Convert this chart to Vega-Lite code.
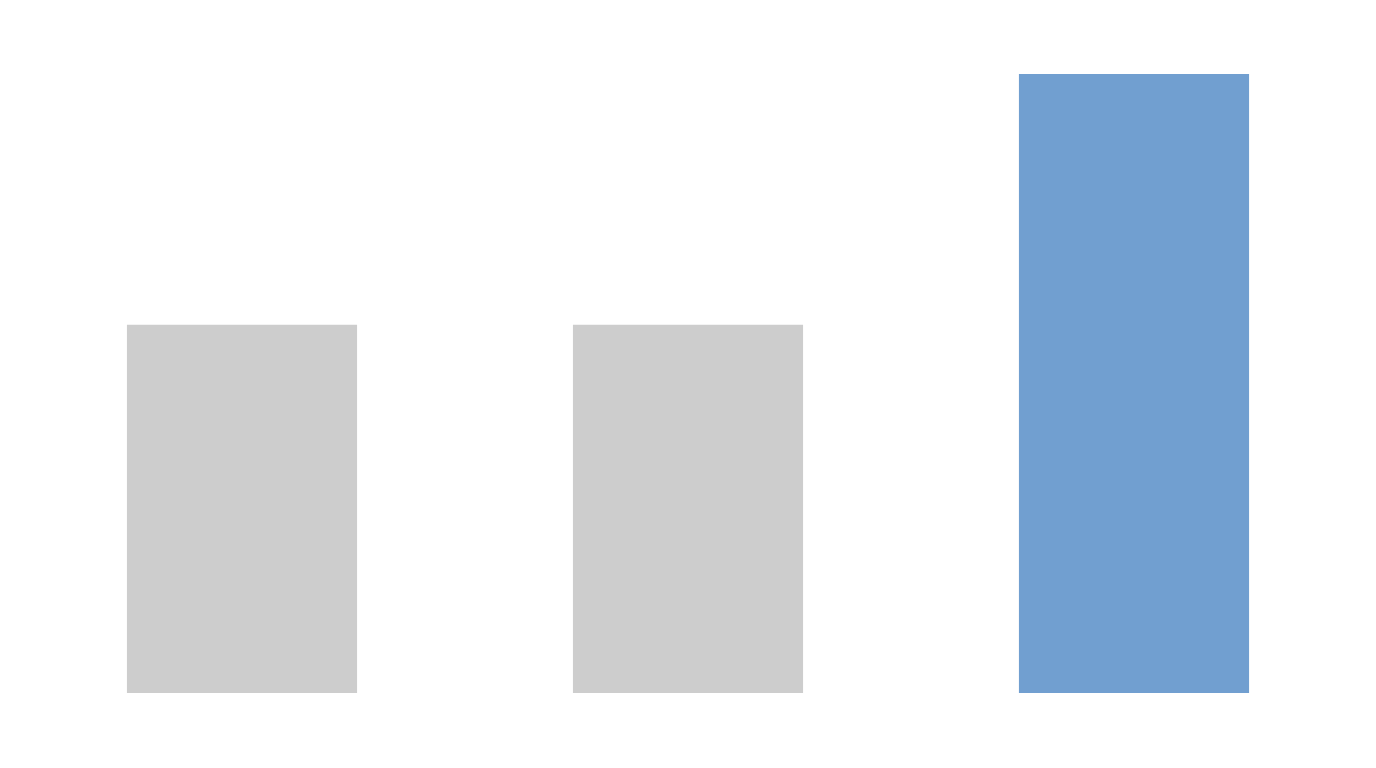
{
  "$schema": "https://vega.github.io/schema/vega-lite/v6.json",
  "width": 1338,
  "height": 619,
  "autosize": {"type": "none"},
  "padding": {"left": 19, "top": 74, "right": 19, "bottom": 75},
  "background": "white",
  "config": {"view": {"stroke": null}},
  "data": {
    "values": [
      {"category": "A", "value": 59.5, "highlight": "no"},
      {"category": "B", "value": 59.5, "highlight": "no"},
      {"category": "C", "value": 100, "highlight": "yes"}
    ]
  },
  "mark": {"type": "bar"},
  "encoding": {
    "x": {
      "field": "category",
      "type": "nominal",
      "sort": null,
      "axis": null,
      "scale": {"paddingInner": 0.484, "paddingOuter": 0.242}
    },
    "y": {
      "field": "value",
      "type": "quantitative",
      "axis": null,
      "scale": {"domain": [0, 100], "nice": false}
    },
    "color": {
      "field": "highlight",
      "type": "nominal",
      "legend": null,
      "scale": {"domain": ["no", "yes"], "range": ["#cdcdcd", "#719fd0"]}
    }
  }
}
